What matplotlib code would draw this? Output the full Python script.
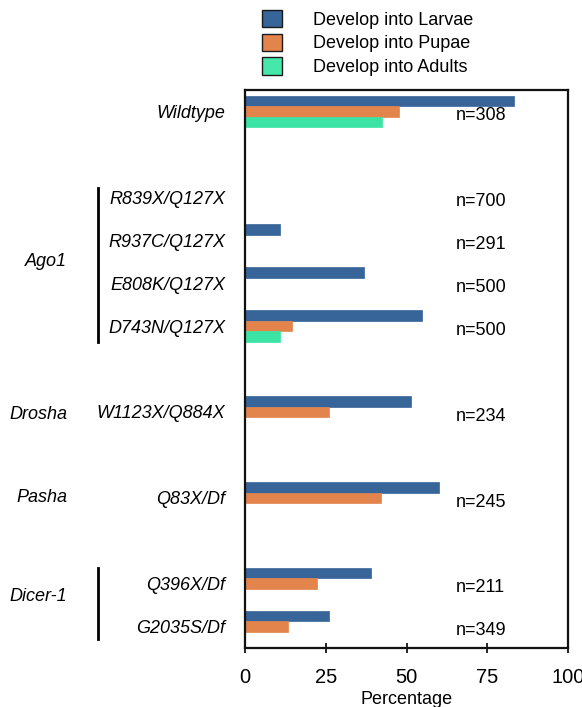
import matplotlib
matplotlib.use("Agg")
import matplotlib.pyplot as plt
import numpy as np
from matplotlib.patches import Patch

plt.rcParams['font.family'] = ['Liberation Sans', 'DejaVu Sans']

# ---- data ----
genotypes = ["Wildtype", "R839X/Q127X", "R937C/Q127X", "E808K/Q127X", "D743N/Q127X",
             "W1123X/Q884X", "Q83X/Df", "Q396X/Df", "G2035S/Df"]
larvae = [83.4, 0.0, 10.8, 36.8, 54.7, 51.3, 60.2, 38.9, 25.9]
pupae = [47.8, 0.0, 0.0, 0.0, 14.6, 25.9, 42.0, 22.3, 13.4]
adults = [42.4, 0.0, 0.0, 0.0, 10.8, 0.0, 0.0, 0.0, 0.0]
n_labels = ["n=308", "n=700", "n=291", "n=500", "n=500", "n=234", "n=245", "n=211", "n=349"]
groups = ["Ago1", "Drosha", "Pasha", "Dicer-1"]
series_names = ["Develop into Larvae", "Develop into Pupae", "Develop into Adults"]
xticks = [0, 25, 50, 75, 100]

# ---- layout ----
ypos = np.array([0, 2, 3, 4, 5, 7, 9, 11, 12], dtype=float)
group_y = [3.5, 7.05, 9.0, 11.3]
colors = ["#376499", "#E3844C", "#3BE4A4"]
bh = 0.245

fig = plt.figure(figsize=(5.82, 7.07), dpi=100)
ax = fig.add_axes([245/582, 1-648/707, (568-245)/582, (648-90)/707])

for i, (vals, c) in enumerate(zip([larvae, pupae, adults], colors)):
    off = (i - 1) * bh
    arr = np.array(vals)
    mask = arr > 0
    ax.barh(ypos[mask] + off, arr[mask], height=bh, color=c,
            edgecolor=c, linewidth=0.5, zorder=2)

for y, t in zip(ypos, n_labels):
    ax.text(73, y + 0.1, t, ha='center', va='center', fontsize=13)

ax.set_xlim(0, 100)
ax.set_ylim(12.5, -0.5)
ax.set_xticks(xticks)
ax.set_xticklabels([str(v) for v in xticks], fontsize=14.5)
ax.tick_params(axis='x', direction='inout', length=7, width=1.2, pad=11)
ax.set_yticks(ypos)
ax.set_yticklabels(genotypes, fontsize=13, style='italic')
ax.tick_params(axis='y', length=0, pad=14)
ax.set_xlabel("Percentage", fontsize=13, labelpad=3)
for s in ax.spines.values():
    s.set_linewidth(1.6)
    s.set_color("#111111")

# group labels and brackets
tr = ax.get_yaxis_transform()
for g, y in zip(groups, group_y):
    ax.text(-0.551, y, g, transform=tr, ha='right', va='center', fontsize=13,
            style='italic', clip_on=False)
bx = (98 - 245) / 323
ax.plot([bx, bx], [1.78, 5.37], transform=tr, color='black', lw=2.0, clip_on=False)
ax.plot([bx, bx], [10.64, 12.29], transform=tr, color='black', lw=2.0, clip_on=False)

# legend
handles = [Patch(facecolor=c, edgecolor="#1a1a1a", linewidth=1.0)
           for c in ["#376499", "#E3844C", "#45E8AA"]]
fig.legend(handles, series_names, loc='upper left', bbox_to_anchor=(262/582, 1 - 10/707),
           frameon=False, fontsize=13, handlelength=1.1, handleheight=1.1,
           handletextpad=1.7, labelspacing=0.27, borderpad=0, borderaxespad=0)

fig.savefig("out.png", dpi=100)
